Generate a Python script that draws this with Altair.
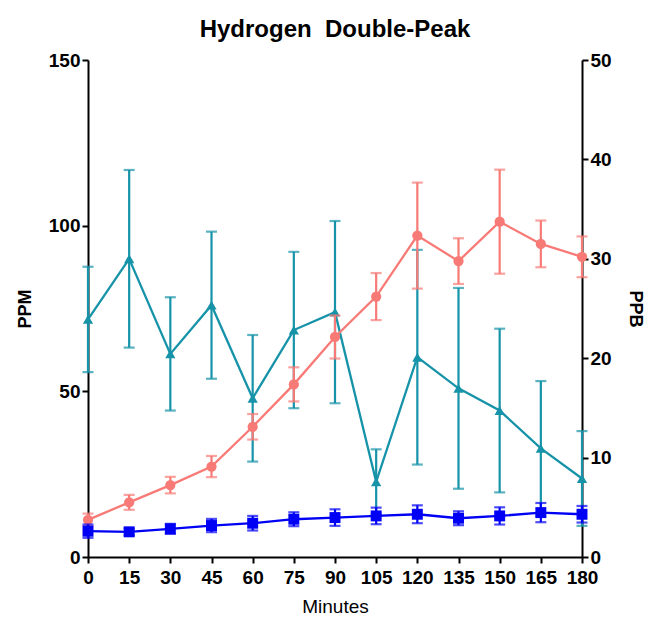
import altair as alt
import pandas as pd

minutes = [0, 15, 30, 45, 60, 75, 90, 105, 120, 135, 150, 165, 180]

teal_vals = [71.7, 90.0, 61.3, 76.0, 47.9, 68.5, 73.9, 22.7, 60.3, 50.9, 44.2, 32.8, 23.7]
teal_err = [15.9, 26.8, 17.1, 22.2, 19.1, 23.6, 27.5, 9.8, 32.4, 30.3, 24.7, 20.3, 14.3]

salmon_vals = [11.2, 16.5, 21.7, 27.3, 39.3, 52.1, 66.4, 78.6, 97.0, 89.3, 101.2, 94.5, 90.6]
salmon_err = [1.9, 2.25, 2.5, 3.2, 3.85, 5.15, 6.5, 7.1, 16.0, 6.9, 15.7, 7.05, 6.15]

blue_vals = [7.8, 7.6, 8.5, 9.5, 10.2, 11.4, 11.9, 12.4, 12.9, 11.7, 12.4, 13.4, 12.9]
blue_err = [2.0, 1.0, 1.5, 2.0, 2.2, 2.1, 2.5, 2.5, 2.7, 2.1, 2.6, 2.9, 2.5]

left_ticks = [0, 50, 100, 150]
right_ticks = [0, 10, 20, 30, 40, 50]

series = [
    ("teal", teal_vals, teal_err, "#1693A8", "triangle-up", 105),
    ("salmon", salmon_vals, salmon_err, "#F87A76", "circle", 105),
    ("blue", blue_vals, blue_err, "#0000F5", "square", 120),
]

FONT = "Liberation Sans"
NARROW = "'Liberation Sans Narrow', 'Liberation Sans'"

xscale = alt.Scale(domain=[0, 180], nice=False, zero=False)
yscale = alt.Scale(domain=[0, 150], nice=False)

x_enc = alt.X("minute:Q", scale=xscale,
              axis=alt.Axis(values=minutes, title="Minutes", labelAngle=0,
                            titleFontWeight="normal", titleFontSize=19,
                            titlePadding=10, labelPadding=5, labelFlush=False))
y_axis = alt.Axis(values=left_ticks, title="PPM", orient="left",
                  titlePadding=14, labelFlush=False)

layers = []
for name, vals, errs, col, shape, size in series:
    df = pd.DataFrame({
        "minute": minutes,
        "value": vals,
        "lo": [v - e for v, e in zip(vals, errs)],
        "hi": [v + e for v, e in zip(vals, errs)],
    })
    base = alt.Chart(df)
    rule = base.mark_rule(color=col, strokeWidth=2.2).encode(
        x=x_enc, y=alt.Y("lo:Q", scale=yscale, axis=y_axis), y2="hi:Q")
    cap_lo = base.mark_tick(color=col, thickness=2.2, size=11, orient="horizontal").encode(
        x="minute:Q", y="lo:Q")
    cap_hi = base.mark_tick(color=col, thickness=2.2, size=11, orient="horizontal").encode(
        x="minute:Q", y="hi:Q")
    line = base.mark_line(color=col, strokeWidth=2.3).encode(
        x="minute:Q", y="value:Q")
    pts = base.mark_point(color=col, filled=True, opacity=1, shape=shape, size=size).encode(
        x="minute:Q", y="value:Q")
    layers += [rule, cap_lo, cap_hi, line, pts]

left = alt.layer(*layers)

right = alt.Chart(pd.DataFrame({"ppb": [0, 50]})).mark_point(opacity=0).encode(
    x=alt.value(0),
    y=alt.Y("ppb:Q", scale=alt.Scale(domain=[0, 50], nice=False),
            axis=alt.Axis(values=right_ticks, title="PPB", orient="right",
                          titlePadding=14, labelFlush=False)),
)

chart = alt.layer(left, right).resolve_scale(y="independent").properties(
    width=494, height=497,
    background="white",
    title=alt.TitleParams("Hydrogen\u00a0 Double-Peak", font=FONT, fontSize=24,
                          fontWeight="bold", color="black", anchor="middle",
                          frame="group", offset=9),
    padding={"left": 88, "top": 60, "right": 71, "bottom": 63},
    autosize=alt.AutoSizeParams(type="none"),
).configure_view(stroke=None).configure_axis(
    grid=False, domainColor="black", domainWidth=2, tickColor="black",
    tickWidth=2, tickSize=6, labelFont=NARROW, labelFontSize=19,
    labelFontWeight="bold", labelColor="black", titleFont=FONT,
    titleFontSize=18, titleFontWeight="bold", titleColor="black",
)

chart.save("out.html", embed_options={"renderer": "svg", "actions": False})
